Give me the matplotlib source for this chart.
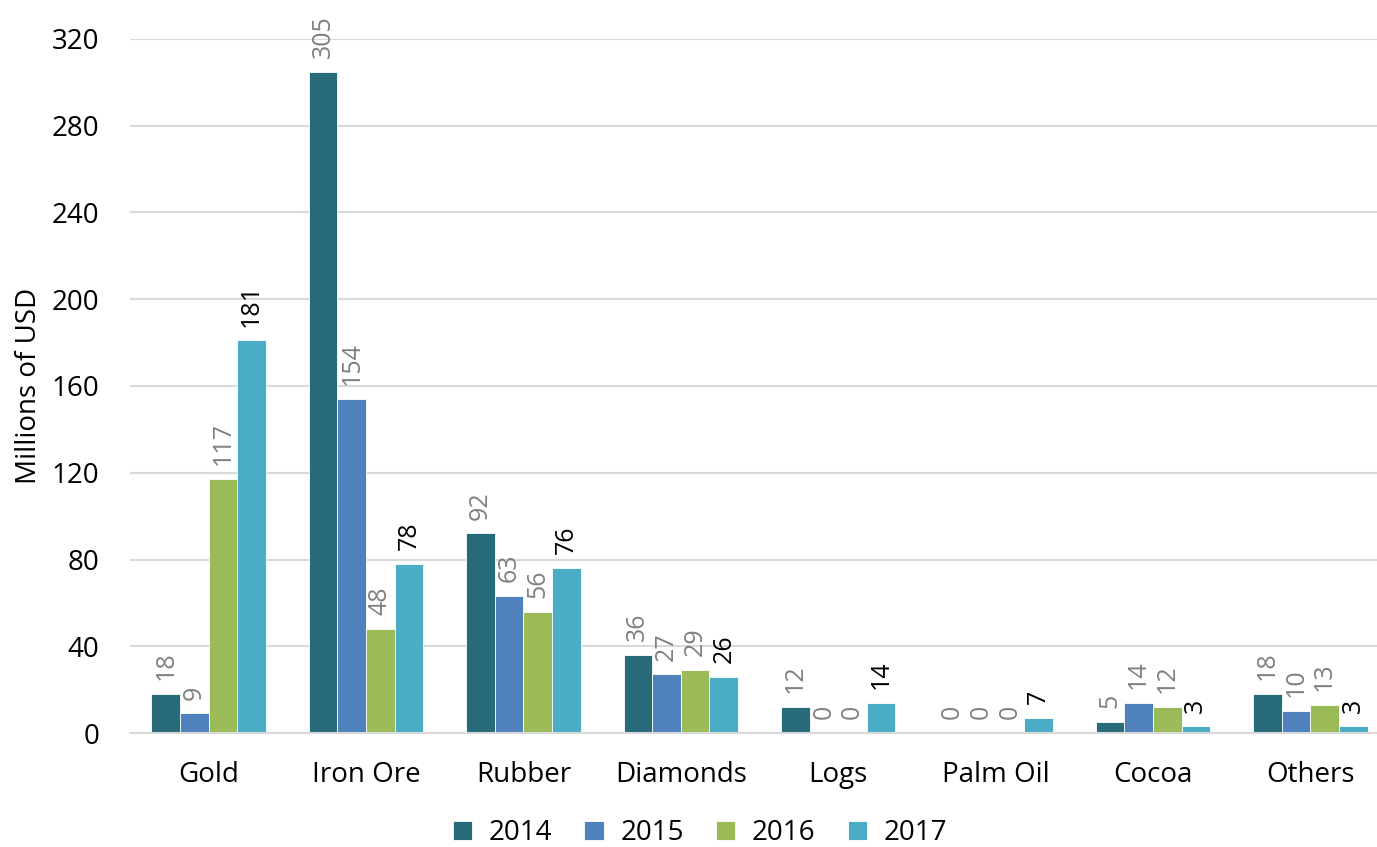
import numpy as np
import matplotlib.pyplot as plt

# Data (millions of USD)
categories = ["Gold", "Iron Ore", "Rubber", "Diamonds", "Logs", "Palm Oil", "Cocoa", "Others"]
years = ["2014", "2015", "2016", "2017"]
v2014 = [18, 305, 92, 36, 12, 0, 5, 18]
v2015 = [9, 154, 63, 27, 0, 0, 14, 10]
v2016 = [117, 48, 56, 29, 0, 0, 12, 13]
v2017 = [181, 78, 76, 26, 14, 7, 3, 3]
yticks = [0, 40, 80, 120, 160, 200, 240, 280, 320]

colors = ["#276a7a", "#4f81bd", "#9bbb59", "#4bacc6"]
label_colors = ["#808080", "#808080", "#808080", "black"]

plt.rcParams['font.family'] = ['Open Sans', 'DejaVu Sans']

fig = plt.figure(figsize=(13.77, 8.47), dpi=100)
ax = fig.add_axes([130 / 1377, 114 / 847, 1259 / 1377, 694 / 847])

x = np.arange(len(categories))
w = 0.182
series = [v2014, v2015, v2016, v2017]
for i, vals in enumerate(series):
    pos = x + (i - 1.5) * w
    ax.bar(pos, vals, w, color=colors[i], edgecolor="white", linewidth=0.6,
           label=years[i], zorder=2)
    for px, v in zip(pos, vals):
        ax.annotate(str(v), (px, v), xytext=(0, 10), textcoords="offset points",
                    rotation=90, ha="center", va="bottom", fontsize=18,
                    color=label_colors[i])

ax.set_xlim(-0.5, 7.5)
ax.set_ylim(0, 320)
ax.set_yticks(yticks)
ax.set_xticks(x)
ax.set_xticklabels(categories)
ax.tick_params(axis="both", length=0, labelsize=20)
ax.tick_params(axis="x", pad=20)
ax.tick_params(axis="y", pad=22)
ax.grid(axis="y", color="#d9d9d9", linewidth=1.5, zorder=0)
for s in ["top", "right", "left"]:
    ax.spines[s].set_visible(False)
ax.spines["bottom"].set_color("#d9d9d9")
ax.spines["bottom"].set_linewidth(1.5)
ax.set_ylabel("Millions of USD", fontsize=20, labelpad=6)

fig.legend(loc="center", bbox_to_anchor=(700 / 1377, 14 / 847), ncol=4, frameon=False,
           fontsize=20, handlelength=0.7, handleheight=0.7, columnspacing=1.15,
           handletextpad=0.6)

fig.savefig("out.png", dpi=100)
